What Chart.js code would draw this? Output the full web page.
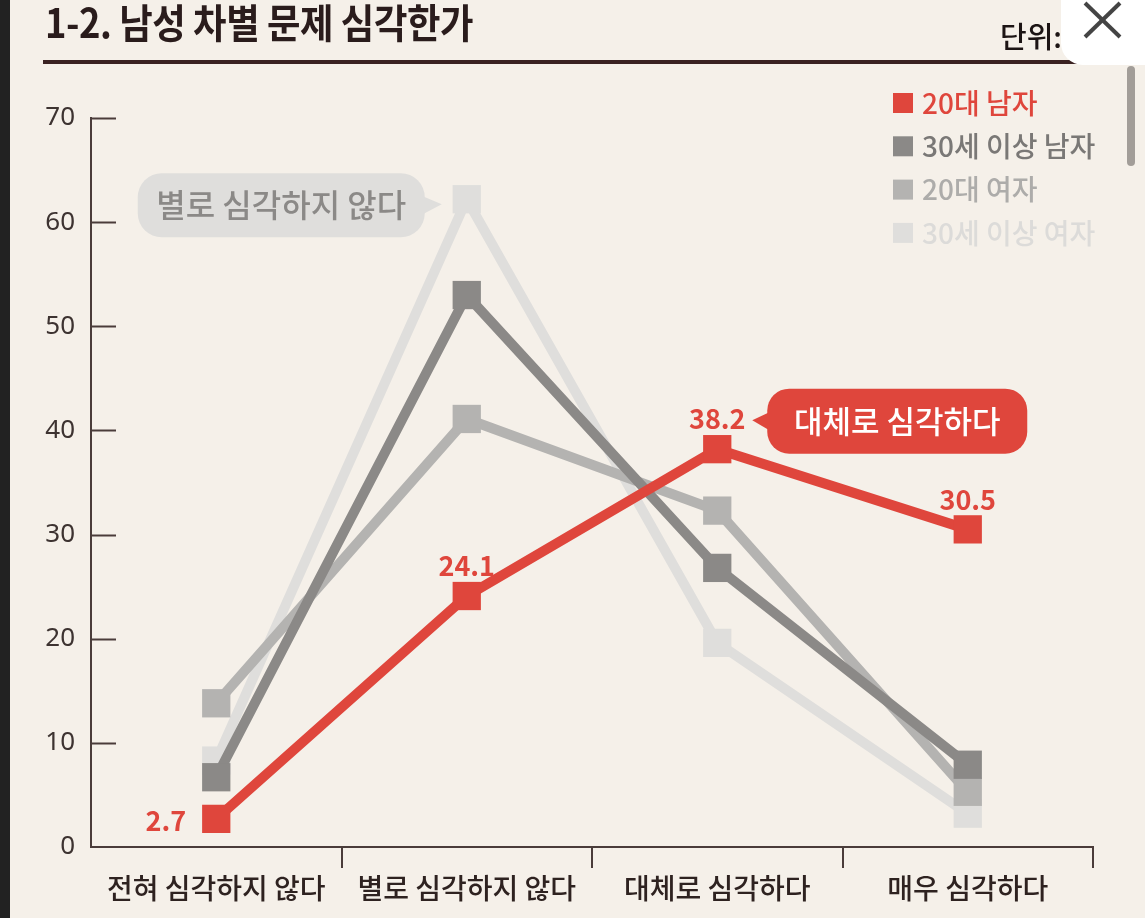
<!DOCTYPE html>
<html>
<head>
<meta charset="utf-8">
<script src="https://cdn.jsdelivr.net/npm/chart.js@4.4.1/dist/chart.umd.min.js"></script>
<style>
  html, body { margin:0; padding:0; background:#f5f0e9; overflow:hidden; }
  #wrap { position:relative; width:1145px; height:918px; }
  #c { position:absolute; left:0; top:0; }
  .title { position:absolute; left:45px; top:1px; font-family:"Noto Sans CJK KR","Noto Sans",sans-serif; font-weight:700; font-size:40px; line-height:1; color:#2a1c1c; transform:scaleX(0.91); transform-origin:left top; white-space:nowrap; letter-spacing:-0.5px; }
  .rule { position:absolute; left:43px; top:60px; width:1050px; height:4px; background:#3a2222; }
  .unit { position:absolute; left:1000px; top:21px; font-family:"Noto Sans CJK KR",sans-serif; font-weight:500; font-size:29px; line-height:1; color:#1c1414; white-space:nowrap; }
  .closebox { position:absolute; left:1061px; top:0; width:84px; height:65px; background:#ffffff; border-bottom-left-radius:22px; }
  .scroll { position:absolute; left:1127px; top:66px; width:8px; height:100px; background:#a29d98; border-radius:4px; }
  .strip { position:absolute; left:0; top:0; width:10px; height:918px; background:#222; }
</style>
</head>
<body>
<div id="wrap">
  <canvas id="c" width="1145" height="918"></canvas>
  <div class="strip"></div>
  <div class="title">1-2. 남성 차별 문제 심각한가</div>
  <div class="rule"></div>
  <div class="unit">단위:%</div>
  <div class="closebox">
    <svg width="84" height="65" style="position:absolute;left:0;top:0">
      <line x1="24" y1="3" x2="59" y2="37" stroke="#444" stroke-width="4"/>
      <line x1="59" y1="3" x2="24" y2="37" stroke="#444" stroke-width="4"/>
    </svg>
  </div>
  <div class="scroll"></div>
</div>
<script>
// ---- data ----
const categories = ['전혀 심각하지 않다', '별로 심각하지 않다', '대체로 심각하다', '매우 심각하다'];
const seriesNames = ['20대 남자', '30세 이상 남자', '20대 여자', '30세 이상 여자'];
const men20 = [2.7, 24.1, 38.2, 30.5];
const men30plus = [6.7, 53.0, 26.8, 7.9];
const women20 = [13.8, 41.1, 32.3, 5.3];
const women30plus = [8.3, 62.2, 19.6, 3.2];
const yTickValues = [0, 10, 20, 30, 40, 50, 60, 70];
const calloutGray = '별로 심각하지 않다';
const calloutRed = '대체로 심각하다';

// ---- styles ----
const RED = '#df463c';
const DARK = '#8b8987';
const MID = '#b4b3b1';
const LIGHT = '#dfdedc';
const legendTextColors = [RED, '#7a7876', '#adacaa', '#dcdbd9'];
const FONT = '"Noto Sans CJK KR", "Noto Sans", sans-serif';
const AXIS = '#4a3c3a';

function ds(label, data, color) {
  return {
    label, data,
    borderColor: color, backgroundColor: color,
    borderWidth: 10, tension: 0,
    pointStyle: 'rect', pointRadius: 20, pointHoverRadius: 20,
    pointBorderWidth: 0, pointBackgroundColor: color,
    clip: false
  };
}

function bubble(ctx, x, y, w, h, r, side, fill) {
  ctx.beginPath();
  ctx.roundRect(x, y, w, h, r);
  ctx.fillStyle = fill;
  ctx.fill();
  ctx.beginPath();
  const cy = y + h / 2;
  if (side === 'right') {
    ctx.moveTo(x + w - 2, cy - 9);
    ctx.lineTo(x + w + 17, cy - 1);
    ctx.lineTo(x + w - 2, cy + 9);
  } else {
    ctx.moveTo(x + 2, cy - 9);
    ctx.lineTo(x - 15, cy - 1);
    ctx.lineTo(x + 2, cy + 9);
  }
  ctx.closePath();
  ctx.fill();
}

const overlay = {
  id: 'overlay',
  beforeDatasetsDraw(chart) {
    const ctx = chart.ctx;
    const ys = chart.scales.y;
    const left = chart.chartArea.left;
    ctx.save();
    ctx.strokeStyle = AXIS;
    ctx.lineWidth = 2;
    yTickValues.forEach(v => {
      if (v === 0) return;
      const py = Math.round(ys.getPixelForValue(v)) + 0.5;
      ctx.beginPath();
      ctx.moveTo(left, py);
      ctx.lineTo(left + 25, py);
      ctx.stroke();
    });
    ctx.restore();
  },
  afterDatasetsDraw(chart) {
    const ctx = chart.ctx;
    const xs = chart.scales.x, ys = chart.scales.y;
    ctx.save();
    // red value labels
    ctx.fillStyle = RED;
    ctx.font = 'bold 27px ' + FONT;
    ctx.textBaseline = 'middle';
    men20.forEach((v, i) => {
      const px = xs.getPixelForValue(i), py = ys.getPixelForValue(v);
      if (i === 0) {
        ctx.textAlign = 'right';
        ctx.fillText(v.toFixed(1), px - 30, py + 2);
      } else {
        ctx.textAlign = 'center';
        ctx.fillText(v.toFixed(1), px, py - 30);
      }
    });
    // gray callout
    {
      const px = xs.getPixelForValue(1), py = ys.getPixelForValue(women30plus[1]);
      const w = 287, h = 64, right = px - 42;
      const top = py + 6 - h / 2;
      bubble(ctx, right - w, top, w, h, 24, 'right', '#dfdedc');
      ctx.fillStyle = '#8b8987';
      ctx.font = '500 32px ' + FONT;
      ctx.textAlign = 'center';
      ctx.textBaseline = 'middle';
      ctx.fillText(calloutGray, right - w / 2, top + h / 2);
    }
    // red callout
    {
      const px = xs.getPixelForValue(2), py = ys.getPixelForValue(men20[2]);
      const w = 260, h = 65, left = px + 50;
      const top = py - 28 - h / 2;
      bubble(ctx, left, top, w, h, 22, 'left', RED);
      ctx.fillStyle = '#ffffff';
      ctx.font = '500 31px ' + FONT;
      ctx.textAlign = 'center';
      ctx.textBaseline = 'middle';
      ctx.fillText(calloutRed, left + w / 2, top + h / 2);
    }
    // legend
    const lx = 893, ly0 = 103, step = 43.3;
    chart.data.datasets.forEach((d, i) => {
      const cy = ly0 + i * step;
      ctx.fillStyle = d.borderColor;
      ctx.fillRect(lx, cy - 10, 20, 20);
      ctx.fillStyle = legendTextColors[i];
      ctx.font = '500 28px ' + FONT;
      ctx.textAlign = 'left';
      ctx.textBaseline = 'middle';
      ctx.fillText(d.label, lx + 29, cy);
    });
    ctx.restore();
  }
};

Chart.defaults.font.family = FONT;

new Chart(document.getElementById('c'), {
  type: 'line',
  data: {
    labels: categories,
    datasets: [
      ds(seriesNames[0], men20, RED),
      ds(seriesNames[1], men30plus, DARK),
      ds(seriesNames[2], women20, MID),
      ds(seriesNames[3], women30plus, LIGHT)
    ]
  },
  options: {
    responsive: false,
    animation: false,
    layout: { padding: { left: 0, top: 118, right: 52, bottom: 0 } },
    plugins: { legend: { display: false }, tooltip: { enabled: false } },
    scales: {
      x: {
        type: 'category',
        offset: true,
        grid: {
          offset: true, drawOnChartArea: false, drawTicks: true, tickLength: 21,
          lineWidth: 2,
          color: c => (c.index === 0 ? 'rgba(0,0,0,0)' : AXIS)
        },
        border: { display: true, color: AXIS, width: 2 },
        ticks: { color: '#2e2220', font: { size: 28, weight: '500' }, padding: 4, autoSkip: false, maxRotation: 0 },
        afterFit: s => { s.height = 71; }
      },
      y: {
        min: 0, max: 70,
        afterBuildTicks: s => { s.ticks = yTickValues.map(v => ({ value: v })); },
        grid: { display: false, drawTicks: false },
        border: { display: true, color: AXIS, width: 2 },
        ticks: { color: '#3d3331', font: { size: 26, family: '"Noto Sans", sans-serif' }, padding: 16 },
        afterFit: s => { s.width = 91; }
      }
    }
  },
  plugins: [overlay]
});
</script>
</body>
</html>
